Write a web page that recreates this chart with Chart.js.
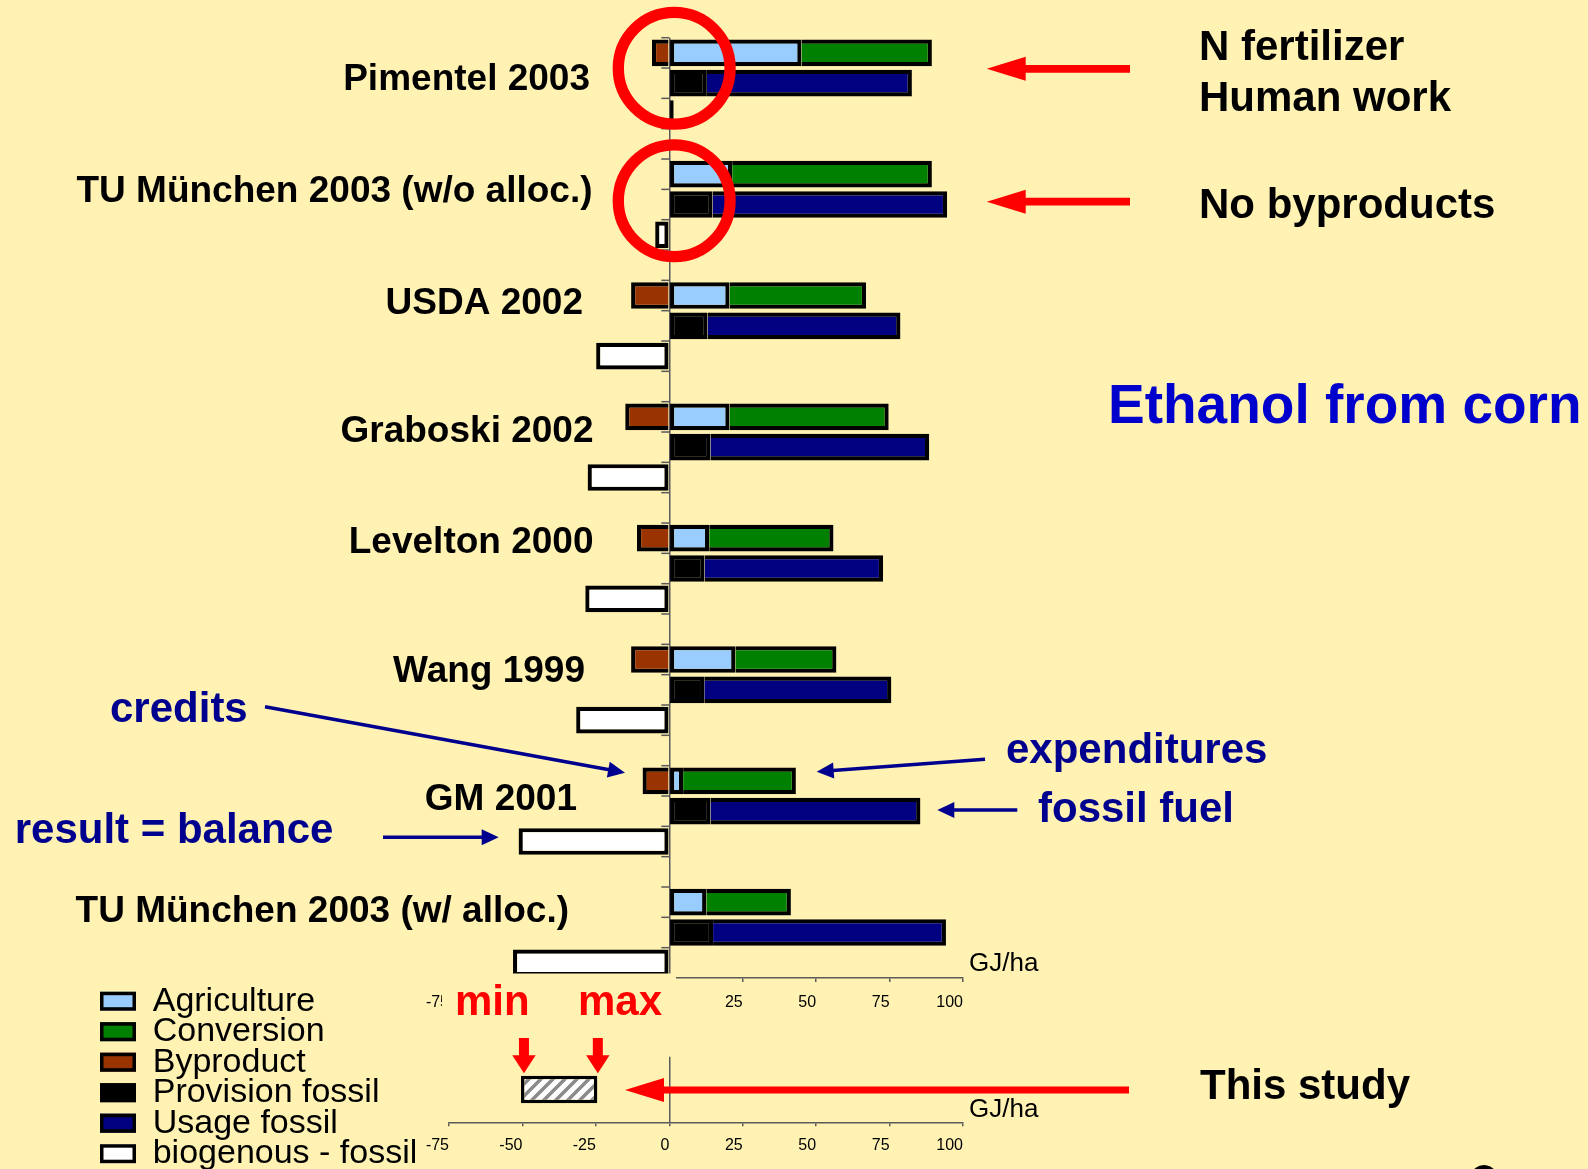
<!DOCTYPE html>
<html>
<head>
<meta charset="utf-8">
<script src="https://cdn.jsdelivr.net/npm/chart.js@4.4.1/dist/chart.umd.min.js"></script>
<style>
  html, body { margin:0; padding:0; background:#FFF2B3; width:1588px; height:1169px; overflow:hidden; }
  canvas { position:absolute; left:0; top:0; }
</style>
</head>
<body>
<canvas id="main" width="1588" height="1169"></canvas>
<canvas id="study" width="1588" height="1169"></canvas>
<script>
// ---------------- DATA (GJ/ha) ----------------
const studies = ['Pimentel 2003', 'TU München 2003 (w/o alloc.)', 'USDA 2002', 'Graboski 2002',
                 'Levelton 2000', 'Wang 1999', 'GM 2001', 'TU München 2003 (w/ alloc.)'];
const agriculture     = [45.0, 21.4, 20.5, 20.5, 13.6, 22.5,  4.7, 12.6];
const conversion      = [44.4, 68.0, 46.5, 54.2, 42.3, 34.4, 38.4, 28.8];
const byproduct       = [-5.9, null, -13.0, -15.0, -11.0, -13.0, -9.1, null];
const provisionFossil = [12.8, 14.7, 13.0, 14.0, 12.0, 11.9, 14.0, 14.9];
const usageFossil     = [69.8, 79.9, 65.7, 74.5, 60.8, 63.7, 71.5, 79.3];
const balance         = [1.5, -4.8, -24.9, -27.8, -28.6, -31.7, -51.3, -53.2];
const seriesNames = ['Agriculture', 'Conversion', 'Byproduct', 'Provision fossil', 'Usage fossil', 'biogenous - fossil'];
const xTicks = [-75, -50, -25, 0, 25, 50, 75, 100];
const thisStudyLabels = ['This study'];
const thisStudyRange = [-50.5, -24.5];   // min, max
const unitLabel = 'GJ/ha';

// ---------------- STYLE / LAYOUT ----------------
const F = "'Liberation Sans', Arial, Helvetica, sans-serif";
const BG = '#FFF2B3';
const NAVY = '#00008E';
const RED = '#FF0000';
const seriesColors = ['#99CCFF', '#008000', '#993300', '#000000', '#000080', '#FFFFFF'];
const seriesSkip = [false, 'start', 'start', false, 'start', false];
const seriesRow = [0, 0, 0, 1, 1, 2];
const BAR_BORDER = 4.2;

Chart.defaults.font.family = F;

const nRows = studies.length * 4 - 1;
function expand(arr, offset) {
  const out = new Array(nRows).fill(null);
  arr.forEach((v, i) => { out[i * 4 + offset] = v; });
  return out;
}
const rowLabels = Array.from({length: nRows}, (_, r) => (r % 4 === 0 ? studies[r / 4] : ''));
const seriesData = [agriculture, conversion, byproduct, provisionFossil, usageFossil, balance];

function txt(ctx, s, x, y, size, color, weight, align) {
  ctx.save();
  ctx.font = (weight || 'normal') + ' ' + size + 'px ' + F;
  ctx.fillStyle = color || '#000';
  ctx.textAlign = align || 'left';
  ctx.textBaseline = 'alphabetic';
  ctx.fillText(s, x, y);
  ctx.restore();
}
function arrow(ctx, x1, y1, x2, y2, lw, headLen, headHalf, color) {
  const a = Math.atan2(y2 - y1, x2 - x1);
  const c = Math.cos(a), s = Math.sin(a);
  const bx = x2 - headLen * c, by = y2 - headLen * s;
  ctx.save();
  ctx.strokeStyle = color; ctx.fillStyle = color; ctx.lineWidth = lw; ctx.lineCap = 'butt';
  ctx.beginPath(); ctx.moveTo(x1, y1); ctx.lineTo(bx + c, by + s); ctx.stroke();
  ctx.beginPath(); ctx.moveTo(x2, y2);
  ctx.lineTo(bx - headHalf * s, by + headHalf * c);
  ctx.lineTo(bx + headHalf * s, by - headHalf * c);
  ctx.closePath(); ctx.fill();
  ctx.restore();
}

// study label annotation positions (right edge x, baseline y)
const studyLabelPos = [[590, 89.5], [592.5, 202], [583, 314], [593.5, 441.5], [593.5, 553], [585, 681.5], [577, 809.5], [569, 921.5]];

const mainAnnotations = {
  id: 'mainAnnotations',
  beforeDatasetsDraw(chart) {
    const ctx = chart.ctx, a = chart.chartArea;
    const x0 = chart.scales.x.getPixelForValue(0);
    const pitch = (a.bottom - a.top) / nRows;
    ctx.save();
    ctx.strokeStyle = '#5a5a5a'; ctx.lineWidth = 1.5;
    for (let i = 0; i <= nRows; i++) {
      const y = a.top + i * pitch;
      ctx.beginPath(); ctx.moveTo(x0 - 8, y); ctx.lineTo(x0, y); ctx.stroke();
    }
    ctx.restore();
  },
  afterDraw(chart) {
    const ctx = chart.ctx;
    // slide text box covering part of the axis
    ctx.save(); ctx.fillStyle = BG; ctx.fillRect(442, 973.5, 234, 57); ctx.restore();

    // study labels
    studies.forEach((s, i) => txt(ctx, s, studyLabelPos[i][0], studyLabelPos[i][1], 37, '#000', 'bold', 'right'));

    // red circles
    ctx.save(); ctx.strokeStyle = RED; ctx.lineWidth = 11.3;
    [[674.2, 68.3], [674.2, 200.8]].forEach(p => { ctx.beginPath(); ctx.arc(p[0], p[1], 55.9, 0, Math.PI * 2); ctx.stroke(); });
    ctx.restore();

    // red arrows top right
    arrow(ctx, 1130, 68.8, 986.7, 68.8, 7.7, 39, 12, RED);
    arrow(ctx, 1130, 201.7, 986.7, 201.7, 7.7, 39, 12, RED);
    txt(ctx, 'N fertilizer', 1199, 60, 42, '#000', 'bold');
    txt(ctx, 'Human work', 1199, 110.7, 42, '#000', 'bold');
    txt(ctx, 'No byproducts', 1199, 218, 42, '#000', 'bold');

    txt(ctx, 'Ethanol from corn', 1108, 422.7, 55, '#0000CC', 'bold');

    // blue annotations
    txt(ctx, 'credits', 110, 722, 42, NAVY, 'bold');
    arrow(ctx, 265, 706.7, 625, 772.7, 3.5, 17, 8, NAVY);
    txt(ctx, 'expenditures', 1006, 763, 42, NAVY, 'bold');
    arrow(ctx, 985, 759.3, 816.7, 771.7, 3.5, 17, 8, NAVY);
    txt(ctx, 'fossil fuel', 1038, 822, 42, NAVY, 'bold');
    arrow(ctx, 1017.3, 810, 937.3, 810, 3.5, 17, 8, NAVY);
    txt(ctx, 'result = balance', 14.7, 843, 42, NAVY, 'bold');
    arrow(ctx, 383, 837.3, 498.7, 837.3, 3.5, 17, 8, NAVY);

    txt(ctx, unitLabel, 969, 970.7, 26, '#000');

    // legend
    chart.data.datasets.forEach((ds, i) => {
      const base = 1010.7 + i * 30.5;
      ctx.save();
      ctx.fillStyle = ds.backgroundColor; ctx.fillRect(100, base - 19, 36, 19);
      ctx.strokeStyle = '#000'; ctx.lineWidth = 3.5; ctx.strokeRect(101.75, base - 17.25, 32.5, 15.5);
      ctx.restore();
      txt(ctx, ds.label, 152.7, base, 34, '#000');
    });

    // cut-off glyph at bottom right
    ctx.save(); ctx.strokeStyle = '#000'; ctx.lineWidth = 4;
    ctx.beginPath(); ctx.arc(1484, 1179, 12, Math.PI * 1.05, Math.PI * 1.95); ctx.stroke(); ctx.restore();
  }
};

function xScaleOpts(pad) {
  return {
    type: 'linear', stacked: true, min: xTicks[0], max: xTicks[xTicks.length - 1],
    afterBuildTicks: s => { s.ticks = xTicks.map(v => ({value: v})); },
    afterFit: s => { s.height = 40; },
    grid: {
      color: c => (c.tick && c.tick.value === 0 ? '#5a5a5a' : 'rgba(0,0,0,0)'),
      tickColor: '#5a5a5a', lineWidth: 1.5, tickLength: 4, drawOnChartArea: true
    },
    border: {display: true, color: '#5a5a5a', width: 1.5},
    ticks: {align: 'end', padding: pad, color: '#000', font: {size: 16}}
  };
}

new Chart(document.getElementById('main'), {
  type: 'bar',
  data: {
    labels: rowLabels,
    datasets: seriesNames.map((name, i) => ({
      label: name,
      data: expand(seriesData[i], seriesRow[i]),
      backgroundColor: seriesColors[i],
      borderColor: '#000', borderWidth: BAR_BORDER, borderSkipped: seriesSkip[i],
      barPercentage: 0.88, categoryPercentage: 1
    }))
  },
  options: {
    responsive: false, animation: false, indexAxis: 'y',
    layout: {padding: {top: 37.7, left: 449, right: 625, bottom: 151}},
    plugins: {legend: {display: false}, tooltip: {enabled: false}},
    scales: {
      x: xScaleOpts(10.5),
      y: {type: 'category', stacked: true, display: false, offset: true}
    }
  },
  plugins: [mainAnnotations]
});

// hatch pattern for "This study"
function hatch() {
  const c = document.createElement('canvas'); c.width = 12; c.height = 12;
  const g = c.getContext('2d');
  g.fillStyle = '#fff'; g.fillRect(0, 0, 12, 12);
  g.strokeStyle = '#8a8a8a'; g.lineWidth = 3.5;
  g.beginPath();
  g.moveTo(-3, 15); g.lineTo(15, -3);
  g.moveTo(-9, 9); g.lineTo(9, -9);
  g.moveTo(3, 21); g.lineTo(21, 3);
  g.stroke();
  return g.createPattern(c, 'repeat');
}

const studyAnnotations = {
  id: 'studyAnnotations',
  afterDraw(chart) {
    const ctx = chart.ctx;
    txt(ctx, 'min', 455, 1015, 42, RED, 'bold');
    txt(ctx, 'max', 578, 1015, 42, RED, 'bold');
    const xs = chart.scales.x;
    [thisStudyRange[0], thisStudyRange[1]].forEach(v => {
      const x = xs.getPixelForValue(v) + (v === thisStudyRange[0] ? 3 : 0.5);
      arrow(ctx, x, 1038, x, 1073.3, 10, 18, 11.7, RED);
    });
    arrow(ctx, 1129, 1090, 625, 1090, 7, 39, 12, RED);
    txt(ctx, thisStudyLabels[0], 1200, 1099, 42, '#000', 'bold');
    txt(ctx, unitLabel, 969, 1116.5, 26, '#000');
  }
};

new Chart(document.getElementById('study'), {
  type: 'bar',
  data: {
    labels: thisStudyLabels,
    datasets: [{
      label: thisStudyLabels[0],
      data: [thisStudyRange],
      backgroundColor: hatch(),
      borderColor: '#000', borderWidth: 3.5, borderSkipped: false,
      barPercentage: 0.416, categoryPercentage: 1
    }]
  },
  options: {
    responsive: false, animation: false, indexAxis: 'y',
    layout: {padding: {top: 1056.7, left: 449, right: 625, bottom: 6.7}},
    plugins: {legend: {display: false}, tooltip: {enabled: false}},
    scales: {
      x: xScaleOpts(9.5),
      y: {type: 'category', display: false, offset: true}
    }
  },
  plugins: [studyAnnotations]
});
</script>
</body>
</html>
